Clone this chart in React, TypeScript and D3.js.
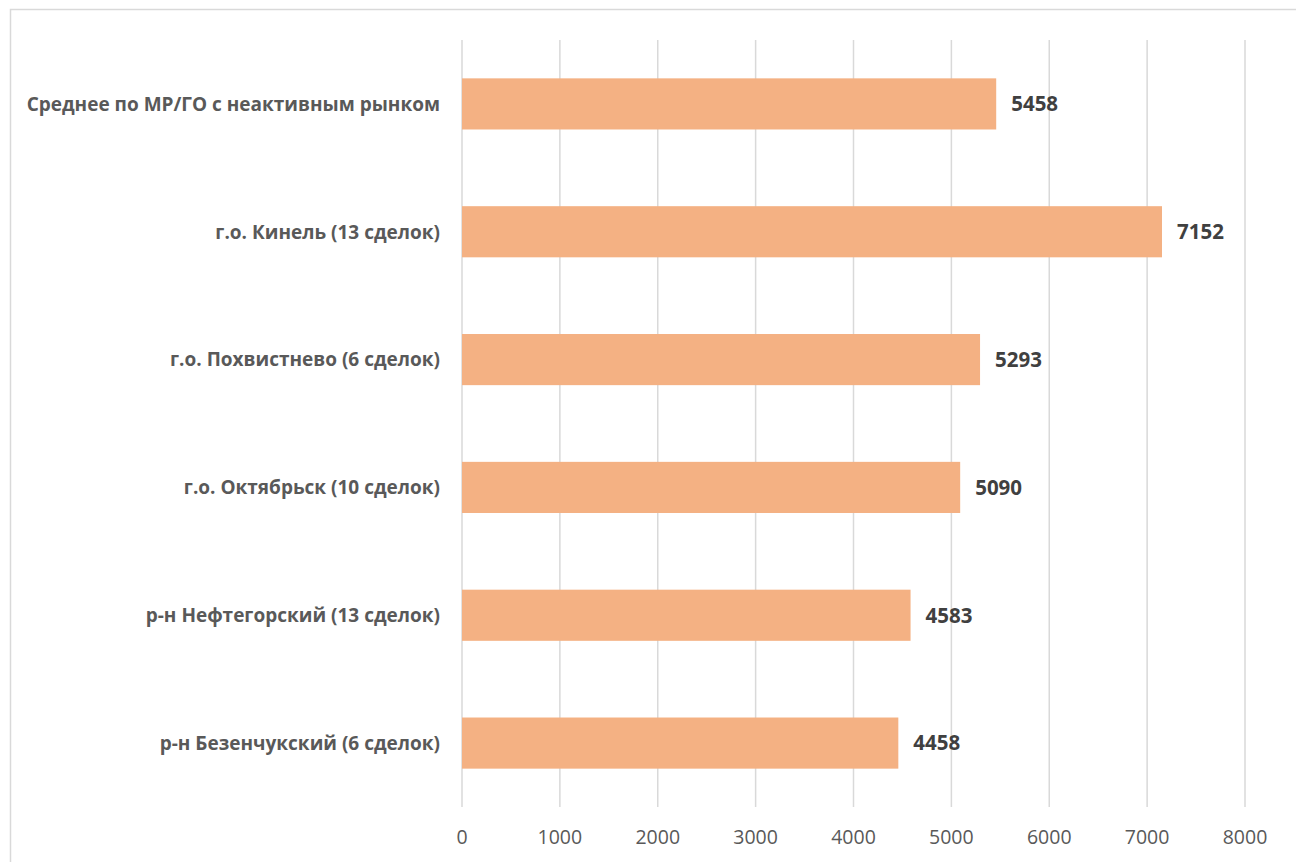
import React from "react";
import * as d3 from "d3";

const categories = [
  "Среднее по МР/ГО с неактивным рынком",
  "г.о. Кинель (13 сделок)",
  "г.о. Похвистнево (6 сделок)",
  "г.о. Октябрьск (10 сделок)",
  "р-н Нефтегорский (13 сделок)",
  "р-н Безенчукский (6 сделок)",
];
const values = [5458, 7152, 5293, 5090, 4583, 4458];
const ticks = [0, 1000, 2000, 3000, 4000, 5000, 6000, 7000, 8000];

const W = 1296;
const H = 862;

export default function App() {
  const x = d3.scaleLinear().domain([0, 8000]).range([462, 1245]);
  const y = d3.scaleBand<string>().domain(categories).range([40, 807]).paddingInner(0.6).paddingOuter(0.3);
  const font = "'Open Sans', Calibri, sans-serif";

  return (
    <svg width={W} height={H} style={{ position: "absolute", left: 0, top: 0, background: "#fff" }}>
      <rect x={10.5} y={9.5} width={W + 10} height={H + 10} fill="#fff" stroke="#d9d9d9" strokeWidth={1.5} />
      {ticks.map((t) => (
        <line key={t} x1={x(t)} x2={x(t)} y1={40} y2={807} stroke="#d9d9d9" strokeWidth={1.5} />
      ))}
      {categories.map((c, i) => (
        <rect key={c} x={x(0)} y={y(c)} width={x(values[i]) - x(0)} height={y.bandwidth()} fill="#F4B183" />
      ))}
      {categories.map((c, i) => (
        <text
          key={"v" + c}
          x={x(values[i]) + 15}
          y={(y(c) as number) + y.bandwidth() / 2}
          dy="0.36em"
          fontFamily={font}
          fontWeight="bold"
          fontSize={20.5}
          fill="#404040"
        >
          {values[i]}
        </text>
      ))}
      {categories.map((c) => (
        <text
          key={"c" + c}
          x={440}
          y={(y(c) as number) + y.bandwidth() / 2}
          dy="0.36em"
          textAnchor="end"
          fontFamily={font}
          fontWeight="bold"
          fontSize={19}
          fill="#595959"
        >
          {c}
        </text>
      ))}
      {ticks.map((t) => (
        <text
          key={"t" + t}
          x={x(t)}
          y={837}
          dy="0.36em"
          textAnchor="middle"
          fontFamily={font}
          fontSize={19.5}
          fill="#595959"
        >
          {t}
        </text>
      ))}
    </svg>
  );
}
